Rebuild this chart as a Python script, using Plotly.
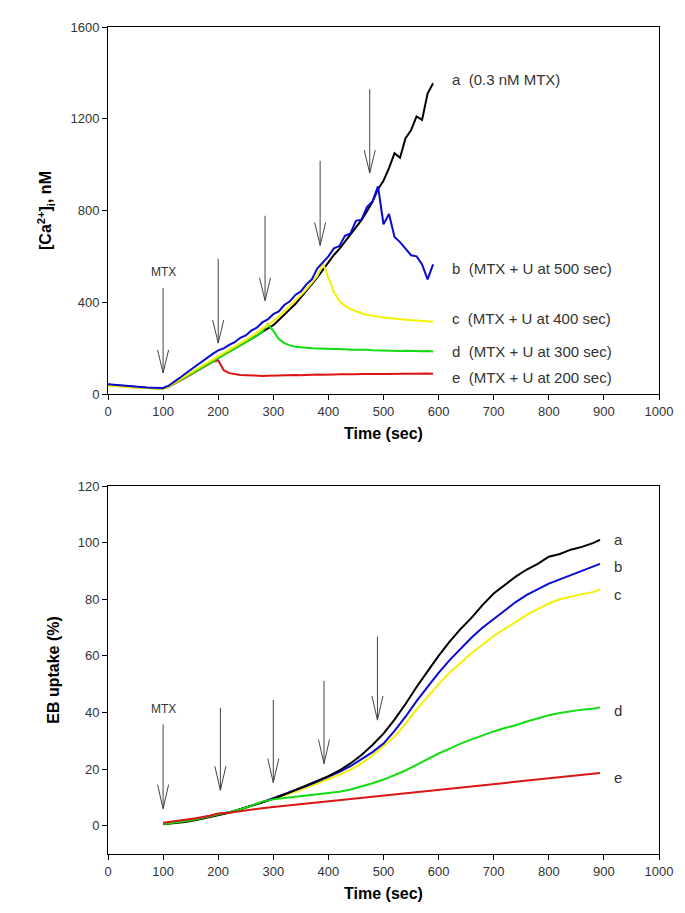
import plotly.graph_objects as go

# ---- top panel: [Ca2+]i (nM), one sample every 10 s from 0 to 590 s
t_top = list(range(0, 600, 10))

ca_a = [40, 38, 36, 33, 30, 28, 27, 27, 26, 25,
        25, 33, 46, 60, 74, 88, 102, 117, 131, 146,
        160, 172, 186, 198, 212, 225, 241, 254, 271, 285,
        300, 323, 344, 369, 392, 421, 447, 478, 508, 541,
        574, 606, 633, 665, 694, 730, 758, 797, 838, 893,
        930, 985, 1050, 1030, 1115, 1150, 1210, 1195, 1310, 1355]
ca_b = [42, 40, 37, 34, 31, 29, 28, 28, 27, 25,
        26, 36, 52, 70, 88, 106, 124, 141, 159, 175,
        190, 199, 214, 226, 245, 255, 276, 289, 312, 325,
        348, 360, 388, 404, 432, 447, 478, 500, 548, 575,
        600, 635, 645, 690, 700, 755, 760, 815, 840, 905,
        740, 785, 685, 662, 632, 605, 600, 565, 500, 565]
ca_c = [36, 35, 33, 31, 29, 27, 26, 26, 25, 24,
        24, 33, 47, 62, 77, 92, 107, 121, 136, 151,
        166, 179, 192, 206, 220, 235, 251, 267, 284, 301,
        318, 338, 360, 383, 406, 430, 456, 484, 515, 570,
        505, 445, 405, 385, 370, 360, 352, 345, 340, 336,
        333, 331, 328, 326, 324, 322, 320, 318, 317, 315]
ca_d = [38, 36, 34, 31, 29, 27, 26, 26, 25, 25,
        24, 32, 45, 58, 72, 86, 100, 114, 128, 142,
        156, 169, 182, 196, 210, 224, 239, 254, 272, 305,
        275, 240, 222, 212, 206, 203, 200, 199, 198, 198,
        197, 196, 196, 195, 193, 194, 192, 193, 191, 190,
        191, 189, 190, 188, 189, 187, 188, 186, 187, 185]
ca_e = [40, 37, 35, 32, 29, 28, 27, 26, 26, 25,
        24, 31, 43, 56, 70, 84, 98, 112, 126, 140,
        147, 104, 91, 86, 83, 82, 80, 81, 79, 80,
        81, 80, 82, 81, 83, 82, 84, 83, 85, 84,
        86, 85, 86, 85, 87, 86, 87, 86, 88, 87,
        87, 88, 87, 89, 88, 88, 89, 88, 89, 88]

# ---- bottom panel: EB uptake (%)
t_bot = list(range(100, 900, 20)) + [893]

eb_a = [0.5, 0.8, 1.3, 2.0, 2.8, 3.6, 4.6, 5.8, 7.0, 8.2,
        9.5, 11.0, 12.6, 14.2, 15.8, 17.5, 19.5, 22.0, 25.0, 28.5,
        32.5, 37.5, 43.0, 49.0, 54.5, 60.0, 65.0, 69.5, 73.5, 78.0,
        82.0, 85.0, 88.0, 90.5, 92.5, 95.0, 96.0, 97.5, 98.5, 99.8, 101.0]
eb_b = [0.8, 1.2, 1.8, 2.5, 3.2, 4.0, 4.8, 5.8, 7.0, 8.3,
        9.7, 11.1, 12.5, 14.0, 15.6, 17.2, 19.0, 21.0, 23.5, 26.0,
        29.0, 33.5, 38.5, 44.0, 49.0, 54.0, 58.5, 62.5, 66.5, 70.0,
        73.0, 76.0, 79.0, 81.5, 83.5, 85.5, 87.0, 88.5, 90.0, 91.5, 92.5]
eb_c = [0.5, 0.9, 1.5, 2.2, 3.0, 3.8, 4.7, 5.7, 6.9, 8.1,
        9.4, 10.7, 12.0, 13.4, 14.9, 16.5, 18.0, 19.8, 22.0, 24.8,
        28.0, 31.5, 36.0, 41.0, 45.5, 50.0, 54.0, 57.5, 61.0, 64.0,
        67.0, 69.5, 72.0, 74.5, 76.5, 78.5, 80.0, 81.0, 81.8, 82.5, 83.5]
eb_d = [0.6, 1.0, 1.6, 2.3, 3.1, 3.9, 4.8, 5.8, 7.0, 8.5,
        9.3, 9.8, 10.2, 10.6, 11.0, 11.5, 12.0, 12.8, 13.8, 15.0,
        16.3, 17.8, 19.5, 21.5, 23.5, 25.5, 27.2, 29.0, 30.5, 32.0,
        33.3, 34.5, 35.5, 36.8, 38.0, 39.0, 39.8, 40.4, 41.0, 41.3, 41.8]
eb_e = [1.0, 1.5, 2.0, 2.6, 3.3, 4.3, 4.6, 5.2, 5.7, 6.2,
        6.6, 7.0, 7.5, 8.0, 8.4, 8.8, 9.1, 9.5, 9.9, 10.3,
        10.7, 11.1, 11.5, 11.9, 12.3, 12.7, 13.1, 13.5, 13.9, 14.3,
        14.8, 15.2, 15.6, 16.0, 16.3, 16.7, 17.1, 17.5, 17.8, 18.2, 18.6]

# arrows: x position, start (tail) value, tip value
arrow_top_x = [100, 200, 285, 385, 475]
arrow_top_from = [462, 590, 777, 1017, 1329]
arrow_top_to = [92, 222, 407, 648, 963]

arrow_bot_x = [100, 204, 300, 392, 489]
arrow_bot_from = [35.8, 41.6, 44.4, 51.2, 66.8]
arrow_bot_to = [6.0, 12.5, 15.2, 21.9, 37.3]

labels_top = ["a  (0.3 nM MTX)", "b  (MTX + U at 500 sec)", "c  (MTX + U at 400 sec)",
              "d  (MTX + U at 300 sec)", "e  (MTX + U at 200 sec)"]
labels_top_y = [1370, 546, 328, 186, 74]
labels_bot = ["a", "b", "c", "d", "e"]
labels_bot_y = [101, 91.5, 81.7, 40.8, 17]

colors = {"a": "#000000", "b": "#0a0ad2", "c": "#f7ef00", "d": "#12dc12", "e": "#dc1414"}
FONT = "Arial, Liberation Sans, sans-serif"


def arrow_path(xs, y0s, y1s, dx, dy):
    px, py = [], []
    for x, y0, y1 in zip(xs, y0s, y1s):
        px += [x, x, None, x - dx, x, x + dx, None]
        py += [y0, y1, None, y1 + dy, y1, y1 + dy, None]
    return px, py


fig = go.Figure()

# top panel
for key, ys in [("a", ca_a), ("e", ca_e), ("d", ca_d), ("c", ca_c), ("b", ca_b)]:
    fig.add_trace(go.Scatter(x=t_top, y=ys, mode="lines", line=dict(color=colors[key], width=2),
                             xaxis="x", yaxis="y", showlegend=False, hoverinfo="skip"))
ax, ay = arrow_path(arrow_top_x, arrow_top_from, arrow_top_to, 10, 100)
fig.add_trace(go.Scatter(x=ax, y=ay, mode="lines", line=dict(color="#444", width=1),
                         xaxis="x", yaxis="y", showlegend=False, hoverinfo="skip"))

# bottom panel
for key, ys in [("c", eb_c), ("b", eb_b), ("a", eb_a), ("d", eb_d), ("e", eb_e)]:
    fig.add_trace(go.Scatter(x=t_bot, y=ys, mode="lines", line=dict(color=colors[key], width=2),
                             xaxis="x2", yaxis="y2", showlegend=False, hoverinfo="skip"))
bx, by = arrow_path(arrow_bot_x, arrow_bot_from, arrow_bot_to, 10, 8.5)
fig.add_trace(go.Scatter(x=bx, y=by, mode="lines", line=dict(color="#444", width=1),
                         xaxis="x2", yaxis="y2", showlegend=False, hoverinfo="skip"))

annots = []
for txt, y in zip(labels_top, labels_top_y):
    annots.append(dict(x=620, y=y, xref="x", yref="y", text=txt, showarrow=False,
                       xanchor="left", font=dict(size=15, color="#333", family=FONT)))
for txt, y in zip(labels_bot, labels_bot_y):
    annots.append(dict(x=915, y=y, xref="x2", yref="y2", text=txt, showarrow=False,
                       xanchor="left", font=dict(size=15, color="#333", family=FONT)))
annots.append(dict(x=100, y=531, xref="x", yref="y", text="MTX", showarrow=False,
                   font=dict(size=12, color="#333", family=FONT)))
annots.append(dict(x=100, y=41.4, xref="x2", yref="y2", text="MTX", showarrow=False,
                   font=dict(size=12, color="#333", family=FONT)))

axis_common = dict(showline=True, linecolor="black", linewidth=1, mirror=True,
                   ticks="outside", ticklen=5, tickcolor="black", showgrid=False,
                   zeroline=False, automargin=False,
                   tickfont=dict(size=13, color="#333", family=FONT))
title_font = dict(size=16, color="black", family=FONT)

fig.update_layout(
    width=685, height=913,
    margin=dict(l=0, r=0, t=0, b=0),
    paper_bgcolor="white", plot_bgcolor="white",
    showlegend=False,
    annotations=annots,
    xaxis=dict(domain=[100 / 685, 651 / 685], range=[0, 1000], dtick=100, anchor="y",
               title=dict(text="<b>Time (sec)</b>", font=title_font, standoff=10), **axis_common),
    yaxis=dict(domain=[1 - 386 / 913, 1 - 19 / 913], range=[0, 1600], dtick=400, anchor="x",
               title=dict(text="<b>[Ca<sup>2+</sup>]<sub>i</sub>, nM</b>", font=title_font, standoff=14),
               **axis_common),
    xaxis2=dict(domain=[100 / 685, 651 / 685], range=[0, 1000], dtick=100, anchor="y2",
                title=dict(text="<b>Time (sec)</b>", font=title_font, standoff=10), **axis_common),
    yaxis2=dict(domain=[1 - 846 / 913, 1 - 478 / 913], range=[-10, 120], tickvals=[0, 20, 40, 60, 80, 100, 120],
                anchor="x2",
                title=dict(text="<b>EB uptake (%)</b>", font=title_font, standoff=14), **axis_common),
)

fig.write_html("out.html")
